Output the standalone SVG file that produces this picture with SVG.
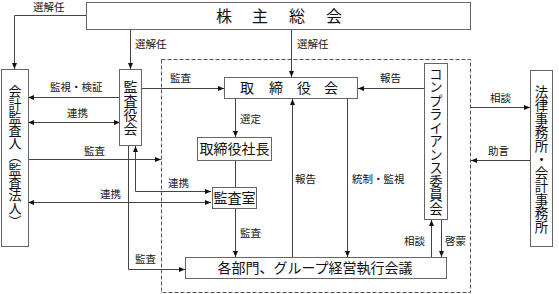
<svg xmlns="http://www.w3.org/2000/svg" width="559" height="294" viewBox="0 0 559 294">
<style>
.box{fill:#fff;stroke:#666;stroke-width:1}
.t{font-family:"Noto Sans CJK JP","Noto Sans",sans-serif;fill:#111}
.bt{font-size:14px;text-anchor:middle}
.vt{writing-mode:vertical-rl;text-anchor:middle;font-size:13.5px}
.lb{font-size:10.5px}
.c{fill:none;stroke:#444;stroke-width:1}
.ca{fill:none;stroke:#444;stroke-width:1;marker-end:url(#ah)}
.cb{fill:none;stroke:#444;stroke-width:1;marker-end:url(#ah);marker-start:url(#as)}
</style>
<defs>
<marker id="ah" viewBox="0 0 6 6" refX="6" refY="3" markerWidth="6" markerHeight="6" markerUnits="userSpaceOnUse" orient="auto"><path d="M0,0.5 L6,3 L0,5.5 Z" fill="#111"/></marker>
<marker id="as" viewBox="0 0 6 6" refX="0" refY="3" markerWidth="6" markerHeight="6" markerUnits="userSpaceOnUse" orient="auto"><path d="M6,0.5 L0,3 L6,5.5 Z" fill="#111"/></marker>
</defs>
<rect x="161.5" y="59.5" width="309" height="233" fill="none" stroke="#555" stroke-dasharray="4,2"/>
<g id="connectors">
<path class="ca" d="M86,15.5 H14.5 V69"/>
<path class="ca" d="M130.5,29 V69"/>
<path class="ca" d="M291.5,29 V77"/>
<path class="ca" d="M142,88.5 H224"/>
<path class="ca" d="M120,97.5 H28"/>
<path class="cb" d="M28,122.5 H120"/>
<path class="ca" d="M28,159.5 H161"/>
<path class="cb" d="M28,202.5 H211"/>
<path class="cb" d="M135.5,146 V191.5 H211"/>
<path class="ca" d="M128.5,146 V269.5 H185"/>
<path class="ca" d="M235.5,99 V137"/>
<path class="c" d="M235.5,161 V187"/>
<path class="ca" d="M235.5,209 V257"/>
<path class="ca" d="M292.5,257 V99"/>
<path class="ca" d="M347.5,99 V257"/>
<path class="ca" d="M424,88.5 H358"/>
<path class="ca" d="M431.5,257 V220"/>
<path class="ca" d="M441.5,220 V257"/>
<path class="ca" d="M471,107.5 H530"/>
<path class="ca" d="M530,160.5 H471"/>
</g>
<g id="labels" class="t lb">
<text x="33" y="11">選解任</text>
<text x="135" y="48">選解任</text>
<text x="297" y="48">選解任</text>
<text x="170" y="82">監査</text>
<text x="50" y="91">監視・検証</text>
<text x="67" y="117">連携</text>
<text x="84" y="155">監査</text>
<text x="100" y="198">連携</text>
<text x="168" y="187">連携</text>
<text x="135" y="263">監査</text>
<text x="240" y="123">選定</text>
<text x="295" y="183">報告</text>
<text x="352" y="183">統制・監視</text>
<text x="240" y="237">監査</text>
<text x="380" y="82">報告</text>
<text x="490" y="102">相談</text>
<text x="488" y="155">助言</text>
<text x="404" y="245">相談</text>
<text x="445" y="245">啓蒙</text>
</g>
<g id="n-shareholders">
<rect class="box" x="86.5" y="2.5" width="384" height="27"/>
<text class="t" style="font-size:16px;text-anchor:middle" x="224 260 297 334" y="21.5">株主総会</text>
</g>
<g id="n-auditor">
<rect class="box" x="1.5" y="69.5" width="27" height="177"/>
<text class="t vt" style="font-size:13px" x="15" y="156">会計監査人（監査法人）</text>
</g>
<g id="n-kansayakukai">
<rect class="box" x="119.5" y="69.5" width="22" height="76"/>
<text class="t vt" style="font-size:14px" x="130.5" y="108">監査役会</text>
</g>
<g id="n-board">
<rect class="box" x="224.5" y="77.5" width="133" height="21"/>
<text class="t" style="font-size:14px;text-anchor:middle" x="247 276 304 331" y="93">取締役会</text>
</g>
<g id="n-president">
<rect class="box" x="197.5" y="137.5" width="74" height="23"/>
<text class="t bt" x="234.5" y="154">取締役社長</text>
</g>
<g id="n-auditroom">
<rect class="box" x="212.5" y="187.5" width="44" height="21"/>
<text class="t bt" x="234.5" y="203">監査室</text>
</g>
<g id="n-departments">
<rect class="box" x="185.5" y="257.5" width="261" height="21"/>
<text class="t bt" x="315" y="273">各部門、グループ経営執行会議</text>
</g>
<g id="n-compliance">
<rect class="box" x="424.5" y="63.5" width="23" height="156"/>
<text class="t vt" x="436" y="141">コンプライアンス委員会</text>
</g>
<g id="n-lawfirm">
<rect class="box" x="530.5" y="70.5" width="22" height="176"/>
<text class="t vt" x="541.5" y="159">法律事務所・会計事務所</text>
</g>
</svg>
